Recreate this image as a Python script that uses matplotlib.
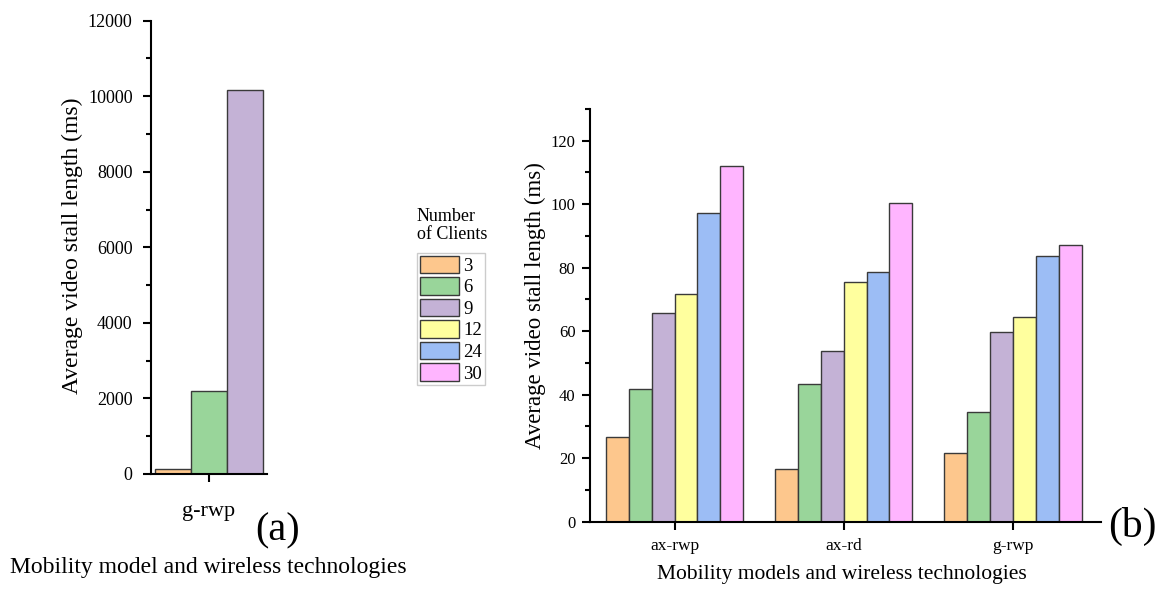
import numpy as np
import matplotlib
matplotlib.use('Agg')
import matplotlib.pyplot as plt
from matplotlib.ticker import MultipleLocator

plt.rcParams['font.family'] = ['Liberation Serif', 'DejaVu Serif']

# data
clients = ['3', '6', '9', '12', '24', '30']
colors = ['#FDC78D', '#99D59A', '#C4B2D6', '#FFFF9E', '#9CBDF5', '#FFB5FF']

a_categories = ['g-rwp']
a_values = [120, 2200, 10170]   # 3, 6, 9 clients

b_categories = ['ax-rwp', 'ax-rd', 'g-rwp']
b_c3 = [26.8, 16.5, 21.5]
b_c6 = [41.7, 43.3, 34.7]
b_c9 = [65.7, 53.8, 59.9]
b_c12 = [71.7, 75.4, 64.4]
b_c24 = [97.2, 78.8, 83.8]
b_c30 = [112.1, 100.3, 87.1]
b_series = [b_c3, b_c6, b_c9, b_c12, b_c24, b_c30]

W, H = 1160, 589
fig = plt.figure(figsize=(W / 100, H / 100), dpi=100)


def px_axes(x0, y0, x1, y1):
    return fig.add_axes([x0 / W, 1 - y1 / H, (x1 - x0) / W, (y1 - y0) / H])


def style(ax, ytick_size, xtick_size, ypad, xpad):
    for s in ['top', 'right']:
        ax.spines[s].set_visible(False)
    for s in ['left', 'bottom']:
        ax.spines[s].set_linewidth(1.5)
    ax.tick_params(axis='both', which='major', direction='out', length=6, width=1.5)
    ax.tick_params(axis='y', which='minor', direction='out', length=3.5, width=1.5)
    ax.tick_params(axis='y', labelsize=ytick_size, pad=ypad)
    ax.tick_params(axis='x', labelsize=xtick_size, pad=xpad)


edge = '#3a3a3a'

# panel (a)
ax1 = px_axes(150.7, 20.7, 266.7, 474)
x = np.arange(len(a_categories))
for i, v in enumerate(a_values):
    ax1.bar(x + (i - 1), [v], width=1.0, color=colors[i], edgecolor=edge, linewidth=1)
ax1.set_xlim(-1.62, 1.60)
ax1.set_ylim(0, 12000)
ax1.set_xticks(x)
ax1.set_xticklabels(a_categories)
ax1.set_yticks(np.arange(0, 12001, 2000))
ax1.yaxis.set_minor_locator(MultipleLocator(1000))
style(ax1, 13, 16, 7, 14)

# panel (b)
ax2 = px_axes(590, 109, 1101, 521.7)
xb = np.arange(len(b_categories))
w = 0.135
for i, vals in enumerate(b_series):
    ax2.bar(xb + (i - 2.5) * w, vals, width=w, color=colors[i], edgecolor=edge,
            linewidth=1, label=clients[i])
ax2.set_xlim(-0.5, 2.52)
ax2.set_ylim(0, 130)
ax2.set_xticks(xb)
ax2.set_xticklabels(b_categories)
ax2.set_yticks(np.arange(0, 121, 20))
ax2.yaxis.set_minor_locator(MultipleLocator(10))
style(ax2, 12, 12.5, 4.5, 6)

# labels
fig.text(72 / W, 1 - 245.5 / H, 'Average video stall length (ms)', rotation=90,
         ha='center', va='center', fontsize=17)
fig.text(208.5 / W, 1 - 567 / H, 'Mobility model and wireless technologies',
         ha='center', va='center', fontsize=17)
fig.text(535 / W, 1 - 306 / H, 'Average video stall length (ms)', rotation=90,
         ha='center', va='center', fontsize=16.5)
fig.text(841.5 / W, 1 - 574 / H, 'Mobility models and wireless technologies',
         ha='center', va='center', fontsize=15.5)
fig.text(278 / W, 1 - 531 / H, '(a)', ha='center', va='center', fontsize=29)
fig.text(1132 / W, 1 - 526 / H, '(b)', ha='center', va='center', fontsize=30)

# legend
fig.text(417 / W, 1 - 208 / H, 'Number\nof Clients', ha='left', va='top',
         fontsize=13, linespacing=1.1)
handles, labels = ax2.get_legend_handles_labels()
leg = fig.legend(handles, labels, loc='upper left',
                 bbox_to_anchor=(417 / W, 1 - 253 / H), bbox_transform=fig.transFigure,
                 fontsize=13.5, handlelength=2.1, handleheight=1.05,
                 labelspacing=0.13, borderpad=0.15, handletextpad=0.2,
                 borderaxespad=0, fancybox=False, framealpha=1)
leg.get_frame().set_edgecolor('#cccccc')
leg.get_frame().set_linewidth(1)

fig.savefig('out.png', dpi=100)
